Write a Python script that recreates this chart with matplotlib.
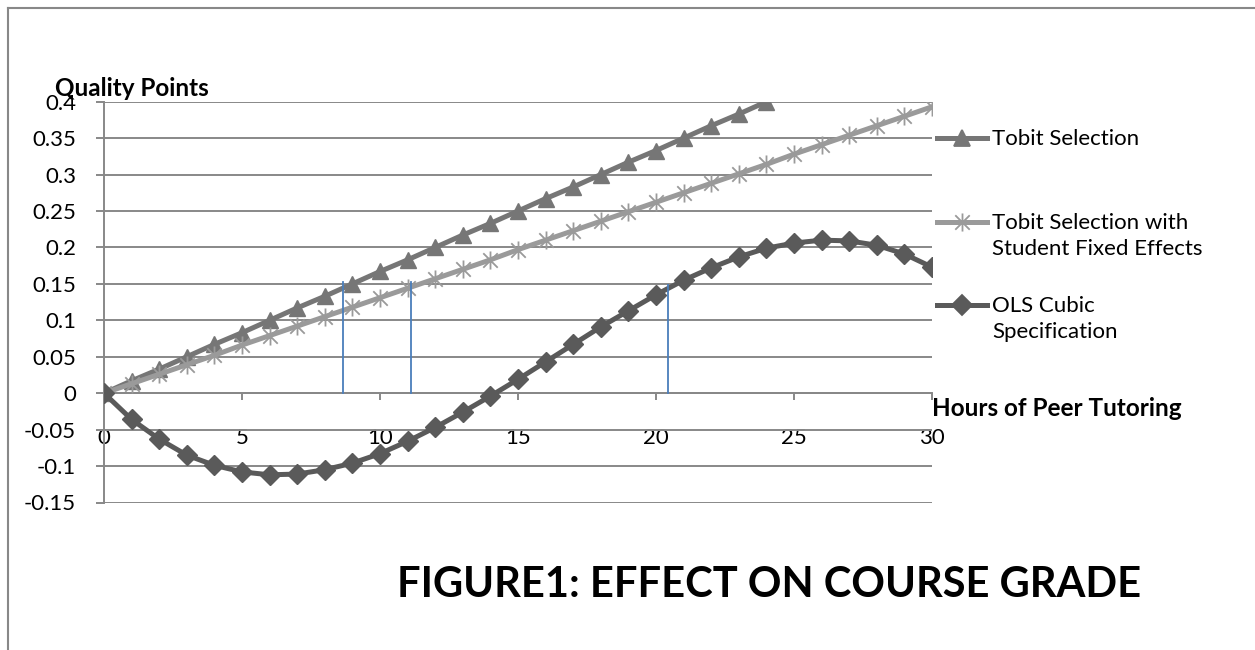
import matplotlib
matplotlib.use('Agg')
import matplotlib.pyplot as plt
from matplotlib.lines import Line2D
from matplotlib.path import Path
import numpy as np

plt.rcParams['font.family'] = ['Lato', 'DejaVu Sans']

# data
hours_tobit = list(range(0, 25))
tobit = [0, 0.017, 0.033, 0.05, 0.067, 0.083, 0.1, 0.117, 0.133, 0.15,
         0.167, 0.183, 0.2, 0.217, 0.233, 0.25, 0.267, 0.283, 0.3, 0.317,
         0.333, 0.35, 0.367, 0.383, 0.4]

hours = list(range(0, 31))
tobit_fe = [0, 0.013, 0.026, 0.039, 0.052, 0.066, 0.079, 0.092, 0.105, 0.118,
            0.131, 0.144, 0.157, 0.170, 0.183, 0.197, 0.210, 0.223, 0.236, 0.249,
            0.262, 0.275, 0.288, 0.301, 0.314, 0.328, 0.341, 0.354, 0.367, 0.380,
            0.393]
ols_cubic = [0, -0.036, -0.063, -0.085, -0.099, -0.108, -0.112, -0.111, -0.105, -0.096,
             -0.083, -0.066, -0.047, -0.026, -0.004, 0.019, 0.043, 0.067, 0.091, 0.113,
             0.135, 0.155, 0.172, 0.187, 0.199, 0.206, 0.210, 0.209, 0.203, 0.191,
             0.173]

# blue marker lines (hours, height)
cut_x = [8.66, 11.12, 20.43]
cut_top = [0.153, 0.152, 0.149]

labels = ['Tobit Selection', 'Tobit Selection with\nStudent Fixed Effects',
          'OLS Cubic\nSpecification']
colors = ['#767676', '#9a9a9a', '#5a5a5a']

# excel-like star marker: X plus vertical stroke
star = Path([(-1, -1), (1, 1), (-1, 1), (1, -1), (0, -1.25), (0, 1.25)],
            [Path.MOVETO, Path.LINETO, Path.MOVETO, Path.LINETO, Path.MOVETO, Path.LINETO])

W, H = 1255, 650
fig = plt.figure(figsize=(W / 100, H / 100), dpi=100)
ax = fig.add_axes([104 / W, 1 - 502.5 / H, (932 - 104) / W, (502.5 - 101.7) / H])

ax.plot(hours_tobit, tobit, color=colors[0], lw=3.6, marker='^', ms=12,
        mec=colors[0], mfc=colors[0], zorder=3)
ax.plot(hours, tobit_fe, color=colors[1], lw=3.6, marker=star, ms=13,
        mec=colors[1], mew=1.3, mfc='none', zorder=4)
ax.plot(hours, ols_cubic, color=colors[2], lw=3.6, marker='D', ms=10,
        mec=colors[2], mfc=colors[2], zorder=5)

for x, top in zip(cut_x, cut_top):
    ax.plot([x, x], [0, top], color='#4a7ebb', lw=1.3, zorder=6)

ax.set_xlim(0, 30)
ax.set_ylim(-0.15, 0.4)
ax.set_yticks(np.arange(-0.15, 0.401, 0.05))
ax.set_yticklabels(['-0.15', '-0.1', '-0.05', '0', '0.05', '0.1', '0.15',
                    '0.2', '0.25', '0.3', '0.35', '0.4'])
ax.set_xticks([0, 5, 10, 15, 20, 25, 30])
ax.grid(axis='y', color='#888888', lw=1.4)
ax.set_axisbelow(True)

for s in ['top', 'right']:
    ax.spines[s].set_visible(False)
ax.spines['bottom'].set_position(('data', 0))
ax.spines['bottom'].set_color('#888888')
ax.spines['bottom'].set_linewidth(1.4)
ax.spines['left'].set_color('#888888')
ax.spines['left'].set_linewidth(1.4)
ax.tick_params(axis='y', direction='out', length=6, width=1.4, color='#888888',
               labelsize=16, pad=14)
ax.tick_params(axis='x', direction='out', length=5, width=1.4, color='#888888',
               labelsize=16, pad=20)

fig.text(55 / W, 1 - 88 / H, 'Quality Points', fontsize=17.5, fontweight='bold',
         va='center', ha='left')
fig.text(932 / W, 1 - 408 / H, 'Hours of Peer Tutoring', fontsize=17.5,
         fontweight='bold', va='center', ha='left')
fig.text(397 / W, 1 - 585 / H, 'FIGURE1: EFFECT ON COURSE GRADE', fontsize=30,
         fontweight='bold', va='center', ha='left')

# legend drawn by hand so that the key sits on the first text line
leg_y = [138, 222, 305]
markers = ['^', star, 'D']
msizes = [12, 13, 10]
for i in range(3):
    y = 1 - leg_y[i] / H
    fig.add_artist(Line2D([937 / W, 987 / W], [y, y], transform=fig.transFigure,
                          color=colors[i], lw=3.6))
    fig.add_artist(Line2D([962 / W], [y], transform=fig.transFigure,
                          marker=markers[i], ms=msizes[i], mew=1.3,
                          mfc=colors[i] if i != 1 else 'none', mec=colors[i]))
    fig.text(992 / W, y + 9 / H, labels[i], fontsize=16, va='top', ha='left',
             linespacing=1.4)

# frame of the original picture
fig.add_artist(Line2D([8 / W, 1], [1 - 8 / H, 1 - 8 / H], transform=fig.transFigure,
                      color='#888888', lw=1.5))
fig.add_artist(Line2D([8 / W, 8 / W], [0, 1 - 8 / H], transform=fig.transFigure,
                      color='#888888', lw=1.5))

fig.savefig('out.png', dpi=100)
